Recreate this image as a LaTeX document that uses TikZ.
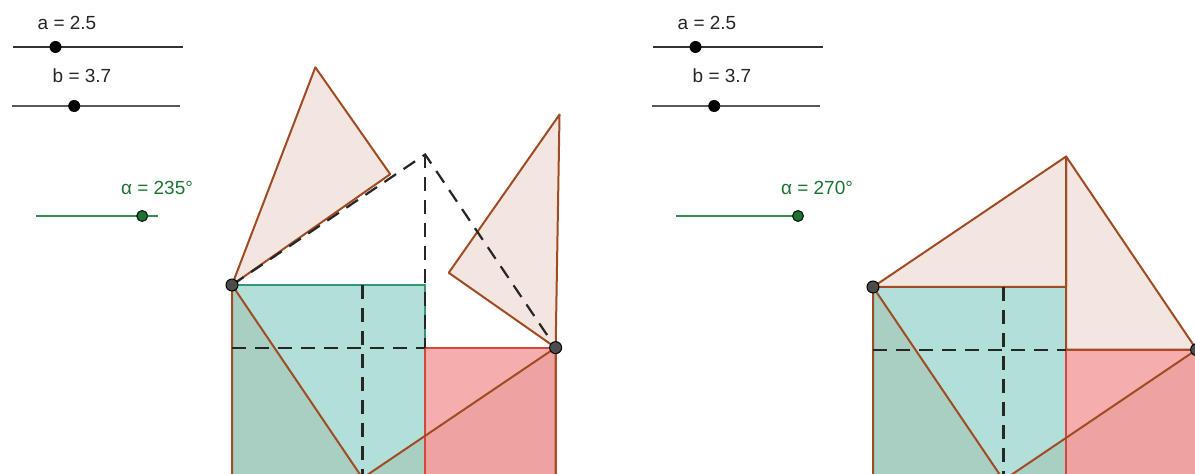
\documentclass[tikz,border=0pt]{standalone}
\usepackage{fontspec}
\setmainfont{Liberation Sans}
\usepackage{xcolor}
\usepackage{tikz}

\definecolor{tealsq}{RGB}{0,153,128}
\definecolor{tealedge}{RGB}{50,150,120}
\definecolor{redsq}{RGB}{238,118,118}
\definecolor{rededge}{RGB}{215,70,60}
\definecolor{tribrown}{RGB}{153,51,0}
\definecolor{triedge}{RGB}{160,75,35}
\definecolor{anglegreen}{RGB}{30,115,50}

\begin{document}
\begin{tikzpicture}[
        x=0.5pt, y=-0.5pt,
        font=\fontsize{9.5}{11}\selectfont,
        tealsquare/.style={fill=tealsq, fill opacity=0.3, draw=tealedge, line width=1pt},
        redsquare/.style={fill=redsq, fill opacity=0.6, draw=rededge, line width=1pt},
        trifill/.style={fill=tribrown, fill opacity=0.12},
        tri/.style={trifill, draw=triedge, line width=1pt, line join=round},
        triline/.style={draw=triedge, line width=1pt, line join=round},
        dashline/.style={draw=black!85, line width=1.1pt, dash pattern=on 7pt off 4.5pt},
        ptdot/.style={fill=black!70, draw=black, line width=0.5pt},
        sliderline/.style={draw=black!80, line width=1.2pt},
        sliderdot/.style={fill=black},
        anglelabel/.style={text=anglegreen, anchor=base},
        valtext/.style={text=black!85, anchor=base},
      ]

      \useasboundingbox (0,0) rectangle (1195,474);
      \clip (0,0) rectangle (1195,474);

      \foreach \sx/\px/\py/\ang/\lx in {0/232/285/235/157, 640/873/287/270/817} {
        \node[valtext] (alabel\ang) at (\sx+67,30) {a = 2.5};
        \draw[sliderline] (\sx+13,47) -- (\sx+183,47);
        \fill[sliderdot] (\sx+13+42.5,47) circle (3pt);

        \node[valtext] (blabel\ang) at (\sx+82,83) {b = 3.7};
        \draw[sliderline, draw=black!65] (\sx+12,106) -- (\sx+180,106);
        \fill[sliderdot] (\sx+12+62.2,106) circle (3pt);

        \node[anglelabel] (anglabel\ang) at (\lx,195) {α = \ang°};
        \draw[sliderline, line width=0.9pt, draw=anglegreen!85] (\sx+36,216) -- (\sx+158,216);
        \filldraw[fill=anglegreen, draw=black!70!anglegreen, line width=0.6pt]
          (\sx+36+\ang/270*122,216) circle (2.7pt);

        \begin{scope}[shift={(\px,\py)}, x=26.1pt, y=26.1pt]
          \pgfmathsetmacro\rot{270-\ang}

          \fill[trifill] (0,0) -- (0,-3.7) -- (2.5,-3.7) -- cycle;
          \fill[trifill] (2.5,-3.7) -- (6.2,-3.7) -- (6.2,-1.2) -- cycle;

          \filldraw[tealsquare] (0,0) rectangle (3.7,-3.8);
          \filldraw[redsquare] (3.7,-1.2) rectangle (6.2,-3.8);

          \draw[triline] (0,0) -- (0,-3.7) -- (2.5,-3.7) -- cycle;
          \draw[triline] (2.5,-3.7) -- (6.2,-3.7) -- (6.2,-1.2) -- cycle;

          \filldraw[tri, rotate around={\rot:(0,0)}]
            (0,0) -- (3.7,0) -- (3.7,2.5) -- cycle;
          \filldraw[tri, rotate around={-\rot:(6.2,-1.2)}]
            (6.2,-1.2) -- (3.7,-1.2) -- (3.7,2.5) -- cycle;

          \draw[dashline] (0,-1.2) -- (3.7,-1.2);
          \draw[dashline] (2.5,0) -- (2.5,-3.8);
          \ifnum\ang<270
            \draw[dashline] (0,0) -- (3.7,2.5) -- (6.2,-1.2);
            \draw[dashline] (3.7,2.5) -- (3.7,-1.2);
          \fi

          \filldraw[ptdot] (0,0) circle (3pt);
          \filldraw[ptdot] (6.2,-1.2) circle (3pt);
        \end{scope}
      }
    \end{tikzpicture}
\end{document}
